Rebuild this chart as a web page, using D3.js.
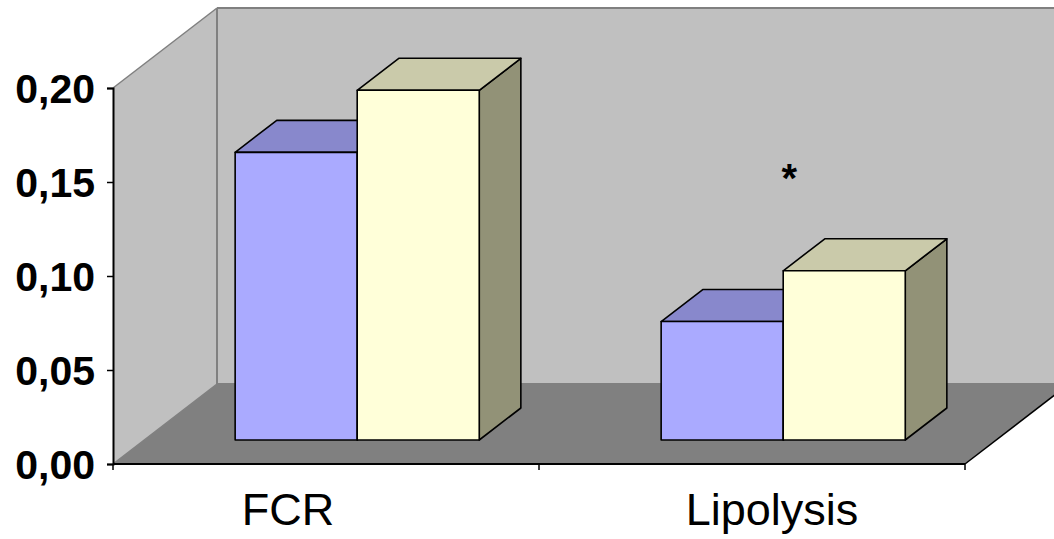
<!DOCTYPE html>
<html>
<head>
<meta charset="utf-8">
<script src="https://cdn.jsdelivr.net/npm/d3@7/dist/d3.min.js"></script>
<style>
  html, body { margin: 0; padding: 0; background: #fff; }
  svg { display: block; font-family: "Liberation Sans", Arial, sans-serif; }
</style>
</head>
<body>
<svg id="chart" width="1054" height="539"></svg>
<script>
// ---- data ----
const categories = ["FCR", "Lipolysis"];
const seriesNames = ["Group A", "Group B"];
const seriesA = [0.153, 0.063];
const seriesB = [0.186, 0.090];
const yTicks = [0.00, 0.05, 0.10, 0.15, 0.20];
const yTickLabels = ["0,00", "0,05", "0,10", "0,15", "0,20"];
const marker = { category: "Lipolysis", text: "*", value: 0.1475 };

// ---- layout ----
const W = 1054, H = 539;
const plot = { left: 113, right: 965, bottom: 464, top: 88 };
const depth = { dx: 104, dy: -80 };          // floor/wall depth vector
const barZ0 = 0.3, barZ1 = 0.7;               // bars occupy this slice of the depth
const groupFrac = 0.573;                      // share of a category band filled by bars
const labelNudge = [-38, 20];                 // horizontal shift of category labels

const colors = {
  wall: "#c0c0c0", floor: "#808080", wallEdge: "#808080",
  series: [
    { front: "#aaaaff", top: "#8888cc", side: "#7777aa" },
    { front: "#ffffd9", top: "#cacaaa", side: "#929277" }
  ]
};

const svg = d3.select("#chart");

const y = d3.scaleLinear().domain([0, 0.2]).range([plot.bottom, plot.top]);
const x0 = d3.scaleBand().domain(categories).range([plot.left, plot.right]).padding(0);
const bw = x0.bandwidth();
const x1 = d3.scaleBand().domain(seriesNames)
  .range([bw * (1 - groupFrac) / 2, bw * (1 + groupFrac) / 2]).padding(0);

// project a point in the front plane (px, py) back by fraction z of the depth
const P = (px, py, z) => [px + depth.dx * z, py + depth.dy * z];
const poly = pts => "M" + pts.map(p => p.join(",")).join("L") + "Z";

// ---- walls and floor ----
const backTop = P(plot.left, plot.top, 1), backBottom = P(plot.left, plot.bottom, 1);
svg.append("path")   // back wall
  .attr("d", poly([backTop, [W + 20, backTop[1]], [W + 20, backBottom[1]], backBottom]))
  .attr("fill", colors.wall);
svg.append("path")   // side wall
  .attr("d", poly([[plot.left, plot.top], backTop, backBottom, [plot.left, plot.bottom]]))
  .attr("fill", colors.wall);
svg.append("path")   // floor
  .attr("d", poly([[plot.left, plot.bottom], backBottom, P(plot.right, plot.bottom, 1), [plot.right, plot.bottom]]))
  .attr("fill", colors.floor);

// wall edges
const edge = (a, b, c, w) => svg.append("line")
  .attr("x1", a[0]).attr("y1", a[1]).attr("x2", b[0]).attr("y2", b[1])
  .attr("stroke", c).attr("stroke-width", w);
edge([plot.left, plot.top], backTop, colors.wallEdge, 1.5);
edge(backTop, [W + 20, backTop[1]], colors.wallEdge, 2);
edge(backTop, backBottom, colors.wallEdge, 2);
edge(backBottom, [W + 20, backBottom[1]], colors.wallEdge, 2);
edge([plot.left, plot.bottom], backBottom, colors.wallEdge, 1.5);

// ---- bars ----
const series = [seriesA, seriesB];
categories.forEach((cat, ci) => {
  seriesNames.forEach((s, si) => {
    const v = series[si][ci];
    const xl = x0(cat) + x1(s), xr = xl + x1.bandwidth();
    const yb = y(0), yt = y(v);
    const c = colors.series[si];
    const g = svg.append("g").attr("stroke", "#000").attr("stroke-width", 1.6).attr("stroke-linejoin", "round");
    // side face
    g.append("path").attr("fill", c.side)
      .attr("d", poly([P(xr, yt, barZ0), P(xr, yt, barZ1), P(xr, yb, barZ1), P(xr, yb, barZ0)]));
    // top face
    g.append("path").attr("fill", c.top)
      .attr("d", poly([P(xl, yt, barZ0), P(xl, yt, barZ1), P(xr, yt, barZ1), P(xr, yt, barZ0)]));
    // front face
    g.append("path").attr("fill", c.front)
      .attr("d", poly([P(xl, yt, barZ0), P(xr, yt, barZ0), P(xr, yb, barZ0), P(xl, yb, barZ0)]));
  });
});

// ---- axes ----
// floor front edge and right edge
edge([plot.left, plot.bottom], [plot.right, plot.bottom], "#000", 2);
edge([plot.right, plot.bottom], P(plot.right, plot.bottom, 1), "#000", 1.5);

const yAxis = svg.append("g").attr("transform", `translate(${plot.left},0)`)
  .call(d3.axisLeft(y).tickValues(yTicks).tickSize(6).tickPadding(12)
    .tickFormat((d, i) => yTickLabels[i]));
yAxis.select(".domain").attr("stroke", "#000").attr("stroke-width", 2);
yAxis.selectAll(".tick line").attr("stroke", "#000").attr("stroke-width", 1.5);
yAxis.selectAll(".tick text")
  .attr("fill", "#000").attr("font-size", 41).attr("font-weight", "bold")
  .attr("font-family", '"Liberation Sans", Arial, sans-serif')
  .attr("dy", "0.36em");

// category ticks along the floor edge
const catTicks = categories.map(c => x0(c)).concat([plot.right]);
svg.selectAll(".ctick").data(catTicks).join("line")
  .attr("x1", d => d).attr("x2", d => d)
  .attr("y1", plot.bottom).attr("y2", plot.bottom + 6)
  .attr("stroke", "#000").attr("stroke-width", 1.5);

svg.selectAll(".clabel").data(categories).join("text")
  .attr("x", (d, i) => x0(d) + bw / 2 + labelNudge[i])
  .attr("y", 525)
  .attr("text-anchor", "middle")
  .attr("font-size", 45)
  .attr("fill", "#000")
  .text(d => d);

// significance marker
const mx = x0(marker.category) + bw / 2;
const mp = P(mx, y(marker.value), barZ0);
svg.append("text")
  .attr("x", mp[0] + 6).attr("y", mp[1] + 29)
  .attr("text-anchor", "middle")
  .attr("font-size", 40)
  .attr("font-weight", "bold")
  .attr("fill", "#000")
  .text(marker.text);
</script>
</body>
</html>
